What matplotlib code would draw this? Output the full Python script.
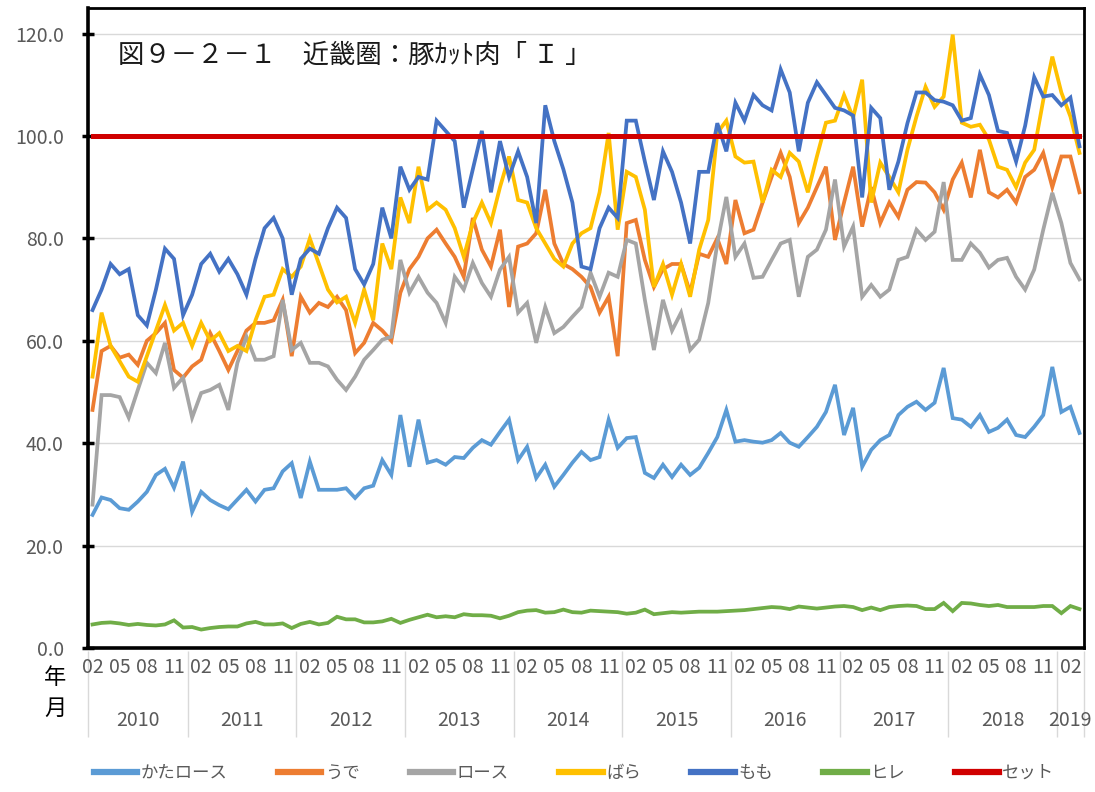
import matplotlib
matplotlib.use("Agg")
import matplotlib.pyplot as plt
from matplotlib.lines import Line2D

plt.rcParams["font.family"] = ["Noto Sans CJK JP", "DejaVu Sans"]

# %% Data (monthly index, 2010-02 .. 2019-03)
START_YEAR = 2010
START_MONTH = 2
YEARS = [2010, 2011, 2012, 2013, 2014, 2015, 2016, 2017, 2018, 2019]

kata = [26, 29.4, 28.9, 27.3, 27, 28.6, 30.5, 33.8, 35, 31.3, 36.4, 26.6, 30.5, 28.9, 27.9, 27.1,
        29, 30.9, 28.6, 30.9, 31.2, 34.5, 36.1, 29.3, 36.4, 30.9, 30.9, 30.9, 31.2, 29.3, 31.2, 31.7,
        36.7, 33.8, 45.5, 35.4, 44.6, 36.2, 36.7, 35.8, 37.3, 37.1, 39.1, 40.6, 39.7, 42.2, 44.6, 36.7,
        39.3, 33.2, 35.8, 31.5, 33.8, 36.2, 38.3, 36.7, 37.3, 44.6, 39.1, 41, 41.2, 34.2, 33.2, 35.8,
        33.4, 35.8, 33.8, 35.2, 38.1, 41.2, 46.5, 40.3, 40.6, 40.3, 40.1, 40.6,
        42, 40.1, 39.3, 41.2, 43.2, 46.1, 51.4, 41.6, 46.9, 35.4, 38.7, 40.6, 41.6, 45.5, 47.1, 48.1,
        46.5, 47.9, 54.7, 44.9, 44.6, 43.2, 45.5, 42.2, 43, 44.6, 41.6, 41.2, 43.2, 45.5, 54.9, 46.1,
        47.1, 42]

ude = [46.5, 58, 59, 56.7, 57.3, 55.3, 60, 61.5, 63.5, 54.3, 52.8, 55, 56.3, 61.5, 58, 54.3, 58,
       62, 63.5, 63.5, 64, 68, 57, 68.6, 65.5, 67.4, 66.6, 68.6, 66, 57.6, 59.6, 63.5, 62, 60, 69.4,
       74, 76.4, 80,
       81.7, 79, 76.4, 72.5, 84, 77.8, 74.5, 81.7, 66.6, 78.4, 79, 81, 89.5, 79, 75, 74, 72.5, 70.5,
       65.5, 68.6, 57, 83, 83.6, 75.8, 70.5, 74, 75, 75, 69.4, 77, 76.4, 80, 75, 87.5, 81,
       81.7, 87, 92, 96.7, 92, 83, 86, 90, 94, 79.7, 87, 94, 82.3, 90, 83, 87, 84.2, 89.5, 91, 90.9,
       89, 85.6, 91.5, 94.8, 88, 97.3, 89, 88, 89.5, 87, 92, 93.4, 96.7, 90, 96, 96, 89]

rosu = [28, 49.4, 49.4, 49, 45, 50.4, 55.7, 53.7, 59.6, 50.8, 52.8, 45, 49.8, 50.4, 51.4, 46.5,
        55.7, 60.8, 56.3, 56.3, 57, 68, 58.2, 59.6, 55.7, 55.7, 55, 52.4, 50.4, 53, 56.3, 58.2, 60.2,
        60.8, 75.8, 69.4, 72.5, 69.4,
        67.4, 63.5, 72.5, 70, 75.2, 71.3, 68.6, 73.9, 76.4, 65.5, 67.4, 59.6, 66.6, 61.5, 62.7, 64.7,
        66.6, 73.3, 68.6, 73.3, 72.5, 79.7, 79, 68, 58.2, 68, 62, 65.5, 58.2, 60.2, 67.4, 79, 88.1,
        76.4, 79,
        72.3, 72.5, 75.8, 79, 79.7, 68.6, 76.4, 77.8, 81.7, 91.5, 78.4, 82.3, 68.6, 70.9, 68.6, 70,
        75.8, 76.4, 81.7, 79.7, 81.3, 91, 75.8, 75.8, 79, 77.2, 74.3, 75.8, 76.2, 72.5, 70, 73.9,
        81.7, 88.9, 83, 75.2, 72]

bara = [53, 65.5, 59, 56, 53, 52, 57, 62, 67, 62, 63.5, 59, 63.5, 60, 61.5, 58, 59, 58, 64, 68.6,
        69, 74, 72.5, 74.5, 80, 75, 70, 67.5, 68.6, 63.5, 70, 64, 79, 74, 88, 83, 94, 85.6,
        87, 85.6, 82, 76.4, 83, 87, 83, 90, 96, 87.5, 87, 82, 79, 76, 74.5, 79, 81, 82, 89, 100.6,
        81.7, 93, 92, 85.6, 70.5, 75, 69, 75, 68.6, 77.8, 83.6, 100.6, 103, 96,
        94.8, 95, 87, 93.4, 92, 96.7, 95, 89, 96, 102.6, 103, 108, 103.6, 111, 87, 94.8, 92, 89,
        97.3, 103.8, 109.6, 105.7, 107.7, 119.8, 102.6, 101.8, 102.2, 99.3, 94, 93.4, 90, 94.8,
        97.3, 107, 115.5, 108.5, 103.8, 96.7]

momo = [66, 70, 75, 73, 74, 65, 63, 70, 78, 76, 65, 69, 75, 77, 73.5, 76, 73, 69, 76, 82, 84, 80,
        69, 76, 78, 77, 82, 86, 84, 74, 71, 75, 86, 80, 94, 89.5, 92, 91.5,
        103, 101, 99, 86, 93.5, 101, 89, 99, 92, 97, 92, 83, 106, 99, 93.5, 87, 74.5, 74, 82, 86,
        84, 103, 103, 95, 87.5, 97, 93, 87, 79, 93, 93, 102.5, 97, 106.5,
        103, 108, 106, 105, 113, 108.5, 97, 106.5, 110.5, 108, 105.5, 105, 104, 88, 105.5, 103.5,
        89.5, 95, 102.5, 108.5, 108.5, 107, 106.7, 106, 103, 103.5, 112, 108, 101, 100.6, 95, 102,
        111.5, 107.7, 108, 106, 107.5, 98]

hire = [4.6, 4.9, 5.0, 4.8, 4.5, 4.7, 4.5, 4.4, 4.6, 5.4, 4.0,
        4.1, 3.6, 3.9, 4.1, 4.2, 4.2, 4.8, 5.1, 4.6, 4.6, 4.8, 3.9,
        4.7, 5.1, 4.6, 4.9, 6.1, 5.6, 5.6, 5.0, 5.0, 5.2, 5.7, 4.9,
        5.5, 6.0, 6.5, 6.0, 6.2, 6.0, 6.6, 6.4, 6.4, 6.3, 5.8, 6.3,
        7.0, 7.3, 7.4, 6.9, 7.0, 7.5, 7.0, 6.9, 7.3, 7.2, 7.1, 7.0,
        6.7, 6.9, 7.5, 6.6, 6.8, 7.0, 6.9, 7.0, 7.1, 7.1, 7.1, 7.2,
        7.3, 7.4, 7.6, 7.8, 8.0, 7.9, 7.6, 8.1, 7.9, 7.7, 7.9, 8.1,
        8.2, 8.0, 7.4, 7.9, 7.4, 8.0, 8.2, 8.3, 8.2, 7.6, 7.6, 8.8,
        7.2, 8.8, 8.7, 8.4, 8.2, 8.4, 8.0, 8.0, 8.0, 8.0, 8.2, 8.2,
        6.8, 8.2, 7.6]

n = len(momo)
setto = [100.0] * n

series = [
    ("かたロース", kata, "#5B9BD5"),
    ("うで", ude, "#ED7D31"),
    ("ロース", rosu, "#A5A5A5"),
    ("ばら", bara, "#FFC000"),
    ("もも", momo, "#4472C4"),
    ("ヒレ", hire, "#70AD47"),
]
for name, vals, _ in series:
    assert len(vals) == n, (name, len(vals))

# %% Plot
fig = plt.figure(figsize=(10.95, 7.92), dpi=100)
ax = fig.add_axes([88 / 1095, 1 - 648 / 792, 996 / 1095, 640 / 792])

x = list(range(n))
for name, vals, color in series:
    ax.plot(x, vals, color=color, lw=2.7, label=name, solid_joinstyle="miter")
ax.plot(x, setto, color="#D00000", lw=3.6, label="セット")

ax.set_xlim(-0.5, n - 0.5)
ax.set_ylim(0, 125)
ax.set_yticks(range(0, 121, 20))
ax.set_yticklabels([f"{v:.1f}" for v in range(0, 121, 20)])
ax.tick_params(axis="y", direction="inout", length=9, width=2.5, color="black",
               labelcolor="#595959", labelsize=14, pad=13)
ax.set_xticks([])
ax.yaxis.grid(True, color="#D9D9D9", lw=1)
ax.set_axisbelow(True)
for side, lw in [("left", 2.6), ("bottom", 2.6), ("top", 2.0), ("right", 2.0)]:
    ax.spines[side].set_linewidth(lw)
    ax.spines[side].set_color("black")

# two level category axis: months and years
xt = ax.get_xaxis_transform()
for i in range(0, n, 3):
    month = (START_MONTH - 1 + i) % 12 + 1
    ax.text(i, -0.03, f"{month:02d}", transform=xt, ha="center", va="center",
            fontsize=14, color="#595959")

bounds = [-0.5]
for yr in YEARS:
    first = max(0, (yr - START_YEAR) * 12 - (START_MONTH - 1))
    last = min(n - 1, (yr - START_YEAR) * 12 + 12 - START_MONTH)
    bounds.append(last + 0.5)
    ax.text((first + last) / 2, -0.114, str(yr), transform=xt, ha="center", va="center",
            fontsize=14, color="#595959")
ax.vlines(bounds, -0.139, -0.004, transform=xt, colors="#D9D9D9", lw=1, clip_on=False)

fig.text(55 / 1095, 1 - 678 / 792, "年", ha="center", va="center", fontsize=16)
fig.text(55 / 1095, 1 - 708 / 792, "月", ha="center", va="center", fontsize=16)

ax.text(0.03, 0.927, "図９－２－１　近畿圏：豚ｶｯﾄ肉「 Ｉ 」", transform=ax.transAxes,
        ha="left", va="center", fontsize=19, color="#1a1a1a")

handles = [Line2D([], [], color=c, lw=4.5) for _, _, c in series]
handles.append(Line2D([], [], color="#D00000", lw=4.5))
labels = [s[0] for s in series] + ["セット"]
leg = fig.legend(handles, labels, loc="center", bbox_to_anchor=(574 / 1095, 1 - 773 / 792),
                 ncol=7, frameon=False, fontsize=12.5, handlelength=2.5, handletextpad=0.2,
                 columnspacing=2.9)
for t in leg.get_texts():
    t.set_color("#595959")

fig.savefig("out.png", dpi=100)
